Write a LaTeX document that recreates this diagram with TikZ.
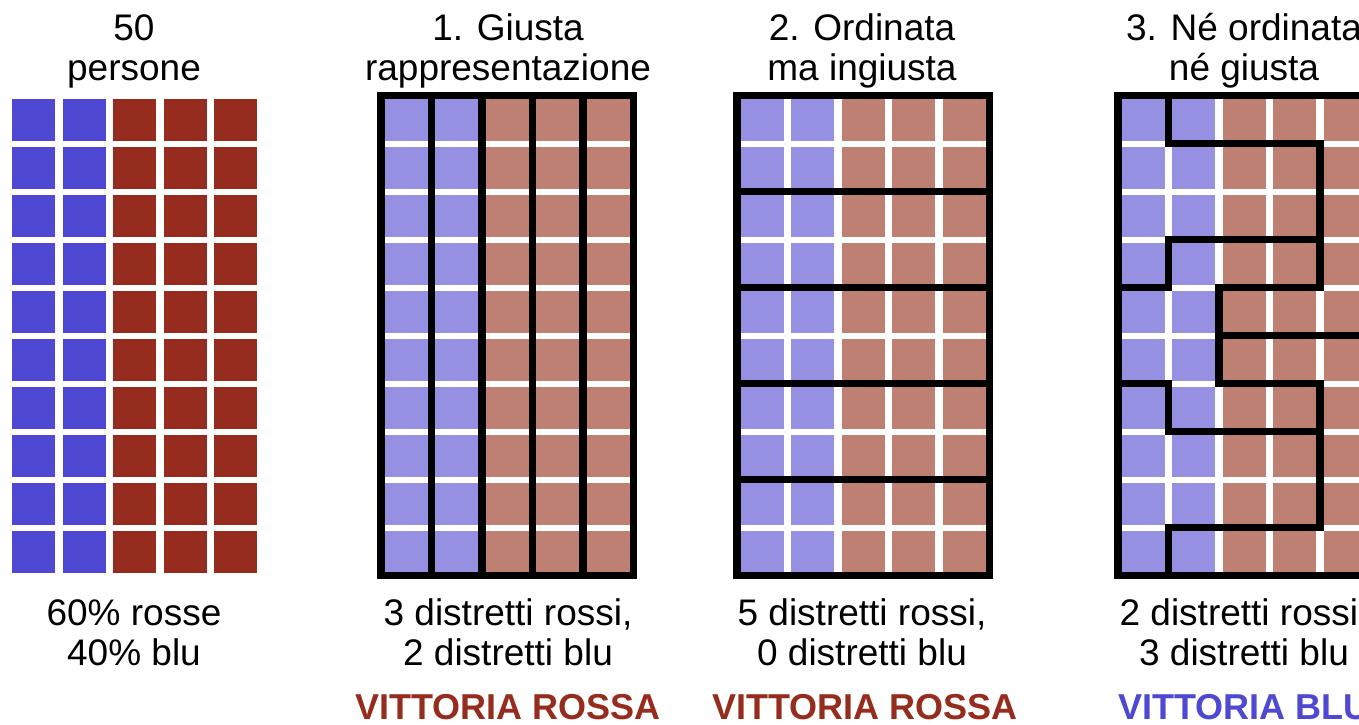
\documentclass[tikz,border=0pt]{standalone}
\usepackage{fontspec}
\setmainfont{Liberation Sans}
\usetikzlibrary{positioning}
\definecolor{bluevote}{HTML}{4F48D2}
\definecolor{redvote}{HTML}{952C1E}
\definecolor{bluepale}{HTML}{9690E2}
\definecolor{redpale}{HTML}{BF8074}
\newcommand{\votergrid}[2]{%
  \foreach \i in {0,1} \foreach \j in {0,...,9}
    \fill[#1] (\i*50.5+3.75, \j*48+3) rectangle ++(43,42);
  \foreach \i in {2,3,4} \foreach \j in {0,...,9}
    \fill[#2] (\i*50.5+3.75, \j*48+3) rectangle ++(43,42);
}
\tikzset{
  title/.style={font=\fontsize{37}{40}\selectfont, align=center, anchor=base, inner sep=0pt},
  caption/.style={font=\fontsize{37}{40}\selectfont, align=center, anchor=base, inner sep=0pt},
  winred/.style={font=\fontsize{36}{40}\selectfont\bfseries, text=redvote, anchor=base, inner sep=0pt},
  winblue/.style={font=\fontsize{36}{40}\selectfont\bfseries, text=bluevote, anchor=base, inner sep=0pt},
  district/.style={draw=black, line width=7.5pt, line cap=rect, line join=miter},
}
\begin{document}
\begin{tikzpicture}[x=1pt, y=-1pt]
  \useasboundingbox (0,0) rectangle (1359,724);
  \clip (0,0) rectangle (1359,724);
  \fill[white] (0,0) rectangle (1359,724);

  % --- Panel 0: the 50 voters ---
  \begin{scope}[shift={(8.25,95.5)}]
    \votergrid{bluevote}{redvote}
  \end{scope}
  \node[title] (t0) at (134,80) {50\\persone};
  \node[caption] (c0) at (134,665) {60\% rosse\\40\% blu};

  % --- Panel 1: vertical districts ---
  \begin{scope}[shift={(381,95.5)}]
    \votergrid{bluepale}{redpale}
    \begin{scope}[x=50.5pt, y=-48pt]
      \draw[district] (0,0) rectangle (5,10);
      \foreach \k in {1,...,4}
        \draw[district] (\k,0) -- (\k,10);
    \end{scope}
  \end{scope}
  \node[title] (t1) at (508,80) {1. Giusta\\rappresentazione};
  \node[caption] (c1) at (508,665) {3 distretti rossi,\\2 distretti blu};
  \node[winred] (w1) at (508,719) {VITTORIA ROSSA};

  % --- Panel 2: horizontal districts ---
  \begin{scope}[shift={(737,95.5)}]
    \votergrid{bluepale}{redpale}
    \begin{scope}[x=50.5pt, y=-48pt]
      \draw[district] (0,0) rectangle (5,10);
      \foreach \r in {2,4,6,8}
        \draw[district] (0,\r) -- (5,\r);
    \end{scope}
  \end{scope}
  \node[title] (t2) at (862,80) {2. Ordinata\\ma ingiusta};
  \node[caption] (c2) at (862,665) {5 distretti rossi,\\0 distretti blu};
  \node[winred] (w2) at (865,719) {VITTORIA ROSSA};

  % --- Panel 3: gerrymandered districts ---
  \begin{scope}[shift={(1118,95.5)}]
    \votergrid{bluepale}{redpale}
    \begin{scope}[x=50.5pt, y=-48pt]
      \draw[district] (0,0) rectangle (5,10);
      \draw[district] (1,0) |- (4,1) |- (2,4) |- (4,6) |- (1,9) -- (1,10);
      \draw[district] (4,3) -- (1,3) |- (0,4);
      \draw[district] (2,5) -- (5,5);
      \draw[district] (0,6) -| (1,7) -- (4,7);
    \end{scope}
  \end{scope}
  \node[title] (t3) at (1244,80) {3. Né ordinata\\né giusta};
  \node[caption] (c3) at (1244,665) {2 distretti rossi,\\3 distretti blu};
  \node[winblue] (w3) at (1244,719) {VITTORIA BLU};
\end{tikzpicture}
\end{document}
